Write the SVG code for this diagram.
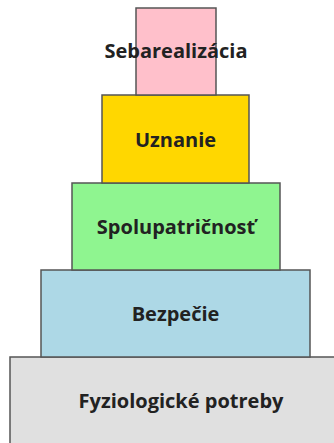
<svg xmlns="http://www.w3.org/2000/svg" width="334" height="443" viewBox="0 0 334 443">
  <style>
    .lvl rect { stroke: #555; stroke-width: 1.5; }
    .lvl text { font-family: "Open Sans", "DejaVu Sans", sans-serif; font-weight: bold; font-size: 20px; fill: #222; text-anchor: middle; dominant-baseline: central; }
  </style>
  <rect width="334" height="443" fill="#fff"/>
  <!-- Pyramid levels, bottom to top -->
  <g id="fyziologicke" class="lvl">
    <rect x="10" y="357" width="342" height="100" fill="#e0e0e0"/>
    <text x="181" y="400">Fyziologické potreby</text>
  </g>
  <g id="bezpecie" class="lvl">
    <rect x="41" y="270" width="269" height="87" fill="#add8e6"/>
    <text x="175.5" y="313.5">Bezpečie</text>
  </g>
  <g id="spolupatricnost" class="lvl">
    <rect x="72" y="183" width="208" height="87" fill="#8ff590"/>
    <text x="176" y="226.5">Spolupatričnosť</text>
  </g>
  <g id="uznanie" class="lvl">
    <rect x="102" y="95" width="147" height="88" fill="#ffd700"/>
    <text x="175.5" y="139">Uznanie</text>
  </g>
  <g id="sebarealizacia" class="lvl">
    <rect x="136" y="8" width="80" height="87" fill="#ffc0cb"/>
    <text x="176" y="50">Sebarealizácia</text>
  </g>
  <g id="connectors"/>
</svg>
